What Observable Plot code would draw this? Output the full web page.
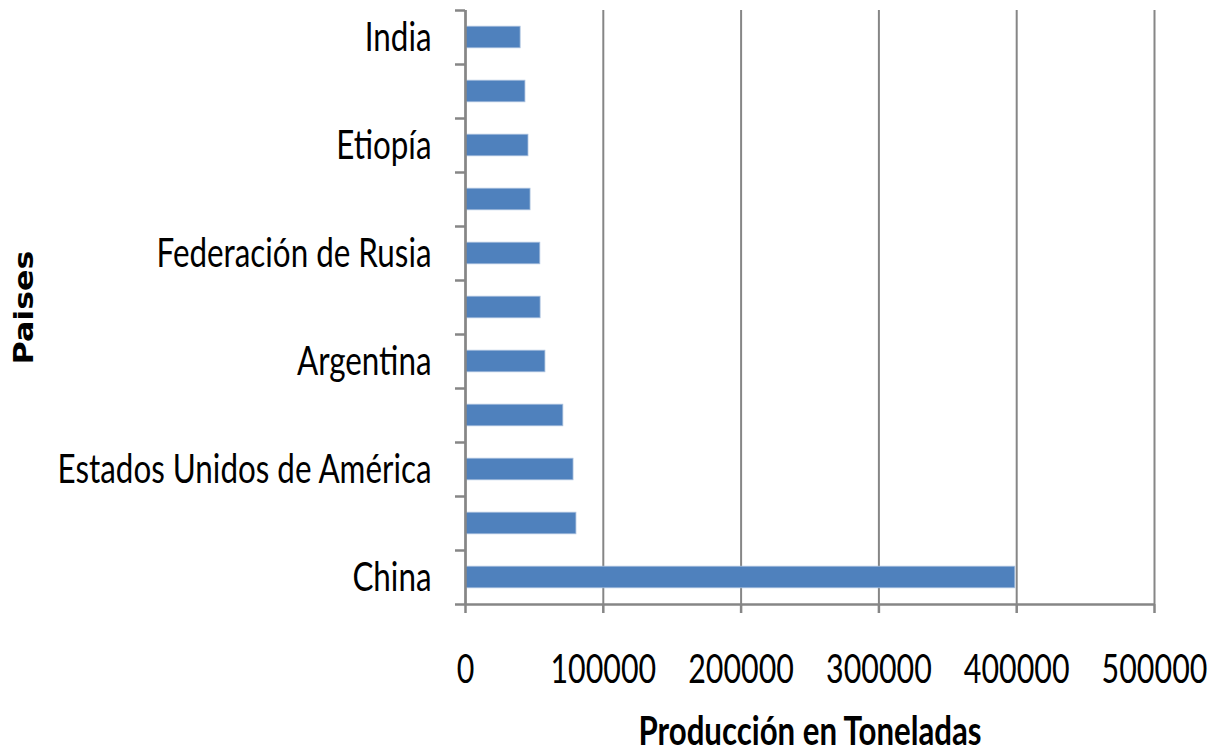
<!DOCTYPE html>
<html><head><meta charset="utf-8">
<script src="https://cdn.jsdelivr.net/npm/d3@7"></script>
<script src="https://cdn.jsdelivr.net/npm/@observablehq/plot@0.6"></script>
<style>body{margin:0;background:#fff}</style>
</head><body><div id="chart"></div>
<script>
// categories from bottom (index 0) to top
const paises = ["China","Turquía","Estados Unidos de América","Ucrania","Argentina","México","Federación de Rusia","Irán","Etiopía","España","India"];
const produccion = [399000, 80500, 78400, 71000, 58000, 54500, 54300, 47200, 45700, 43500, 40000];
const etiquetasVisibles = [0, 2, 4, 6, 8, 10];
const xTicks = [0, 100000, 200000, 300000, 400000, 500000];
const tituloX = "Producción en Toneladas";
const tituloY = "Paises";

const data = paises.map((p, i) => ({pais: p, i, valor: produccion[i]}));
const gray = "#868686";
const font = "Lato, 'Liberation Sans', sans-serif";

const chart = Plot.plot({
  width: 1213, height: 755,
  marginLeft: 465, marginRight: 59, marginTop: 10, marginBottom: 151,
  x: {domain: [0, 500000]},
  y: {domain: [-0.5, 10.5]},
  style: {fontFamily: font, background: "#fff"},
  marks: [
    Plot.gridX(xTicks, {stroke: gray, strokeOpacity: 1, strokeWidth: 2}),
    Plot.rectX(data, {x1: 0, x2: "valor", y1: d => d.i - 0.2, y2: d => d.i + 0.2, fill: "#4f81bd", stroke: "#a9c0de", strokeWidth: 0.8}),
    Plot.ruleX([0], {stroke: gray, strokeWidth: 2.5}),
    Plot.ruleY([-0.5], {stroke: gray, strokeWidth: 2.5}),
    Plot.axisY(d3.range(-0.5, 11, 1), {tickSize: 10, tickFormat: () => "", stroke: gray, strokeWidth: 2.5, label: null}),
    Plot.axisY(etiquetasVisibles, {className: "sx-lab", tickSize: 0, tickPadding: 34, tickFormat: i => paises[i], fontSize: 41, fill: "#000", label: null}),
    Plot.axisX(xTicks, {className: "sx-num", tickSize: 9, tickPadding: 41, tickFormat: d => String(d), fontSize: 40, fill: "#000", stroke: gray, strokeWidth: 2.5, label: null}),
    Plot.text([tituloX], {className: "sx-tit", frameAnchor: "bottom", dy: 140, fontSize: 40, fontWeight: "bold", fill: "#000"}),
    Plot.text([tituloY], {className: "sx-ytit", frameAnchor: "left", dx: -441, rotate: -90, textAnchor: "middle", fontSize: 26, fontWeight: "bold", fill: "#000", fontFamily: "'DejaVu Sans', sans-serif"})
  ]
});

// horizontally condense (or stretch) text to mimic the original narrow typeface
function squeeze(sel, s) {
  chart.querySelectorAll(sel + " text").forEach(t => {
    let tr = t.getAttribute("transform") || "";
    const x = t.getAttribute("x"), y = t.getAttribute("y");
    if (x != null && !isNaN(+x)) { tr = `translate(${+x},0) ` + tr; t.removeAttribute("x"); }
    if (y != null && !isNaN(+y)) { tr = `translate(0,${+y}) ` + tr; t.removeAttribute("y"); }
    t.setAttribute("transform", tr + ` scale(${s},1)`);
  });
}
squeeze(".sx-lab", 0.765);
squeeze(".sx-num", 0.76);
squeeze(".sx-tit", 0.78);
squeeze(".sx-ytit", 1.22);
document.getElementById("chart").append(chart);
</script></body></html>
